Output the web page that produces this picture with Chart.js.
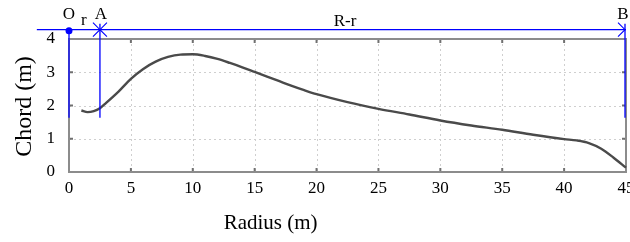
<!DOCTYPE html>
<html>
<head>
<meta charset="utf-8">
<script src="https://cdn.jsdelivr.net/npm/chart.js@4/dist/chart.umd.min.js"></script>
<style>
  html, body { margin: 0; padding: 0; background: #fff; }
  canvas { display: block; }
</style>
</head>
<body>
<canvas id="chordChart" width="630" height="242"></canvas>
<script>
// blade chord distribution
const radius = [1.0, 1.5, 2.0, 2.5, 3, 4, 5, 6, 7, 8, 9, 10, 11, 12, 13, 14, 15, 16, 17, 18, 19, 20,
  22.5, 25, 27.5, 30, 32.5, 35, 37.5, 40, 41, 42, 43, 44, 45];
const chord = [1.85, 1.80, 1.83, 1.92, 2.08, 2.42, 2.80, 3.10, 3.32, 3.46, 3.53, 3.54, 3.49, 3.40, 3.28, 3.15, 3.01, 2.87, 2.73, 2.59, 2.46, 2.34,
  2.10, 1.90, 1.73, 1.55, 1.40, 1.27, 1.12, 0.99, 0.95, 0.87, 0.70, 0.43, 0.13];

const xTicks = [0, 5, 10, 15, 20, 25, 30, 35, 40, 45];
const yTicks = [0, 1, 2, 3, 4];

// dimension markers above the plot (radius values)
const dimLevel = 4.28;
const dimStart = -2.6;
const guideBottom = 1.63;
const pointO = 0;
const pointA = 2.5;
const pointB = 45;

const SERIF = "'Liberation Serif', 'Times New Roman', serif";
const BLUE = '#0000ff';

Chart.defaults.font.family = SERIF;
Chart.defaults.color = '#000';

const framePlugin = {
  id: 'frame',
  beforeDatasetsDraw(chart) {
    const { ctx, chartArea: a, scales: { x, y } } = chart;
    ctx.save();
    // dotted grid
    ctx.strokeStyle = '#cfcfcf';
    ctx.lineWidth = 1;
    ctx.setLineDash([2, 3]);
    xTicks.slice(1, -1).forEach(v => {
      const px = Math.round(x.getPixelForValue(v)) + 0.5;
      ctx.beginPath(); ctx.moveTo(px, a.top); ctx.lineTo(px, a.bottom); ctx.stroke();
    });
    yTicks.slice(1, -1).forEach(v => {
      const py = Math.round(y.getPixelForValue(v)) + 0.5;
      ctx.beginPath(); ctx.moveTo(a.left, py); ctx.lineTo(a.right, py); ctx.stroke();
    });
    ctx.setLineDash([]);
    // inward tick marks
    ctx.strokeStyle = '#707070';
    ctx.lineWidth = 2;
    xTicks.slice(1, -1).forEach(v => {
      const px = x.getPixelForValue(v);
      ctx.beginPath();
      ctx.moveTo(px, a.bottom); ctx.lineTo(px, a.bottom - 4);
      ctx.moveTo(px, a.top); ctx.lineTo(px, a.top + 4);
      ctx.stroke();
    });
    yTicks.slice(1, -1).forEach(v => {
      const py = y.getPixelForValue(v);
      ctx.beginPath();
      ctx.moveTo(a.left, py); ctx.lineTo(a.left + 4, py);
      ctx.moveTo(a.right, py); ctx.lineTo(a.right - 4, py);
      ctx.stroke();
    });
    // frame
    ctx.strokeStyle = '#8c8c8c';
    ctx.lineWidth = 2;
    ctx.strokeRect(a.left, a.top, a.right - a.left, a.bottom - a.top);
    ctx.restore();
  }
};

const notesPlugin = {
  id: 'notes',
  afterDraw(chart) {
    const { ctx, chartArea: a, scales: { x, y } } = chart;
    const yd = y.getPixelForValue(dimLevel);
    const yb = y.getPixelForValue(guideBottom);
    const xo = x.getPixelForValue(pointO);
    const xa = x.getPixelForValue(pointA);
    const xb = x.getPixelForValue(pointB);
    ctx.save();
    ctx.strokeStyle = BLUE;
    ctx.fillStyle = BLUE;
    ctx.lineWidth = 1.3;
    ctx.beginPath();
    ctx.moveTo(x.getPixelForValue(dimStart), yd); ctx.lineTo(xb, yd);
    ctx.moveTo(xo, yd); ctx.lineTo(xo, yb);
    ctx.moveTo(xa, yd - 6); ctx.lineTo(xa, yb);
    ctx.moveTo(xb - 1, yd - 6); ctx.lineTo(xb - 1, yb);
    ctx.stroke();
    // arrowheads
    ctx.lineWidth = 1.1;
    ctx.beginPath();
    ctx.moveTo(xa - 7, yd - 7); ctx.lineTo(xa, yd); ctx.lineTo(xa - 7, yd + 7);
    ctx.moveTo(xa + 7, yd - 7); ctx.lineTo(xa, yd); ctx.lineTo(xa + 7, yd + 7);
    ctx.moveTo(xb - 8, yd - 7); ctx.lineTo(xb - 1, yd); ctx.lineTo(xb - 8, yd + 7);
    ctx.stroke();
    ctx.beginPath();
    ctx.arc(xo, yd + 1, 3.5, 0, Math.PI * 2);
    ctx.fill();
    // labels
    ctx.fillStyle = '#000';
    ctx.font = '17px ' + SERIF;
    ctx.textAlign = 'center';
    ctx.textBaseline = 'alphabetic';
    ctx.fillText('O', xo, yd - 11);
    ctx.fillText('A', xa + 1, yd - 11);
    ctx.fillText('B', xb - 3, yd - 11);
    ctx.fillText('r', x.getPixelForValue(1.2), yd - 5);
    ctx.fillText('R-r', x.getPixelForValue(22.3), yd - 4);
    // axis titles
    ctx.font = '21px ' + SERIF;
    ctx.fillText('Radius (m)', a.left + (a.right - a.left) * 0.362, 229);
    ctx.translate(25, (a.top + a.bottom) / 2 + 1);
    ctx.rotate(-Math.PI / 2);
    ctx.textBaseline = 'middle';
    ctx.font = '24px ' + SERIF;
    ctx.fillText('Chord (m)', 0, 0);
    ctx.restore();
  }
};

new Chart(document.getElementById('chordChart'), {
  type: 'scatter',
  data: {
    datasets: [{
      data: radius.map((r, i) => ({ x: r, y: chord[i] })),
      showLine: true,
      borderColor: '#4a4a4a',
      borderWidth: 2.4,
      pointRadius: 0,
      cubicInterpolationMode: 'monotone',
      clip: false
    }]
  },
  options: {
    responsive: false,
    animation: false,
    devicePixelRatio: 1,
    layout: { padding: { left: 0, top: 39, right: 4, bottom: 0 } },
    plugins: { legend: { display: false }, tooltip: { enabled: false } },
    scales: {
      x: {
        type: 'linear', min: 0, max: 45,
        afterBuildTicks: s => { s.ticks = xTicks.map(v => ({ value: v })); },
        afterFit: s => { s.height = 70; s.paddingLeft = 0; s.paddingRight = 0; },
        grid: { display: false, drawTicks: false },
        border: { display: false },
        ticks: { color: '#000', padding: 6, maxRotation: 0, autoSkip: false, font: { family: SERIF, size: 17 } }
      },
      y: {
        min: 0, max: 4,
        afterBuildTicks: s => { s.ticks = yTicks.map(v => ({ value: v })); },
        afterFit: s => { s.width = 69; },
        grid: { display: false, drawTicks: false },
        border: { display: false },
        ticks: { color: '#000', padding: 14, font: { family: SERIF, size: 17 } }
      }
    }
  },
  plugins: [framePlugin, notesPlugin]
});
</script>
</body>
</html>
